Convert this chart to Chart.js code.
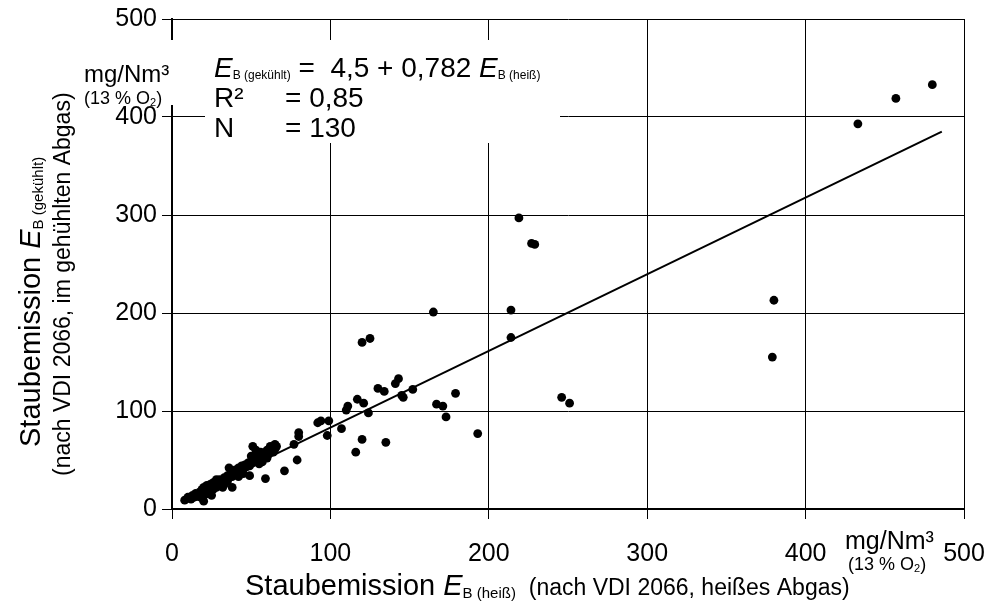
<!DOCTYPE html>
<html><head><meta charset="utf-8">
<script src="https://cdn.jsdelivr.net/npm/chart.js@4"></script>
<style>html,body{margin:0;padding:0;background:#fff}#wrap{width:989px;height:604px}</style>
</head><body><div id="wrap"><canvas id="c" width="989" height="604"></canvas></div>
<script>
// Staubemission heiß (x) and gekühlt (y), mg/Nm³ (13 % O2)
const hotValues = [480,457,433,380,379,219,227,229,214,214,165,246,251,179,167,171,152,143,141,146,145,130,134,125,120,121,117,124,111,110,107,120,135,116,99,98,94,92,80,80,77,65,51,49,59,71,79,20,8,193,173,36,38,
10,12,13,14,15,16,17,18,18,19,20,20,21,22,22,23,24,24,25,26,26,27,28,28,29,30,30,31,32,33,33,34,35,35,36,37,38,39,40,40,41,42,43,44,45,46,47,48,49,50,50,51,52,53,54,55,56,57,58,59,60,61,62,63,64,65,66,45,42,28,55,60,32,25,62,53,57];
const cooledValues = [433,419,393,213,155,297,271,270,203,175,201,114,108,118,107,105,122,133,128,114,116,123,120,174,170,108,112,98,105,101,82,71,68,58,90,75,90,88,78,74,66,66,64,34,31,39,50,8,9,77,94,42,22,
12,10,14,12,16,13,15,18,12,20,17,22,15,19,24,21,18,25,22,20,27,24,28,22,26,30,24,27,29,32,25,30,34,28,32,36,33,38,35,40,37,42,39,44,41,45,43,47,44,49,54,47,51,56,50,53,58,55,52,57,60,56,59,62,58,61,64,36,33,30,46,52,22,14,64,60,48];
// regression line endpoints
const fitX = [8, 486];
const fitY = [11, 385];
const tickValues = [0, 100, 200, 300, 400, 500];

const FF = '"Liberation Sans", Arial, sans-serif';
const pts = hotValues.map((x, i) => ({x, y: cooledValues[i]}));
const fit = fitX.map((x, i) => ({x, y: fitY[i]}));

function runs(ctx, x, y, parts) {
  let cx = x;
  for (const p of parts) {
    ctx.font = p.f;
    ctx.fillText(p.t, cx, y + (p.dy || 0));
    cx += ctx.measureText(p.t).width;
  }
  return cx;
}

const overlay = {
  id: 'overlay',
  beforeDatasetsDraw(chart) {
    const ctx = chart.ctx;
    ctx.save();
    ctx.fillStyle = '#fff';
    ctx.fillRect(80, 40, 480, 65);
    ctx.fillRect(205, 100, 355, 43);
    ctx.restore();
  },
  afterDraw(chart) {
    const ctx = chart.ctx;
    ctx.save();
    ctx.fillStyle = '#000';
    ctx.textBaseline = 'alphabetic';
    ctx.textAlign = 'left';
    const big = '28px ' + FF, it = 'italic 28px ' + FF, sub = '12px ' + FF;
    // equation block
    runs(ctx, 214, 77, [{t:'E', f:it}, {t:'B (gekühlt)', f:sub, dy:2}, {t:' =  4,5 + 0,782 ', f:big}, {t:'E', f:it}, {t:'B (heiß)', f:sub, dy:2}]);
    runs(ctx, 214, 107, [{t:'R²', f:big}]);
    runs(ctx, 285, 107, [{t:'= 0,85', f:big}]);
    runs(ctx, 214, 137, [{t:'N', f:big}]);
    runs(ctx, 285, 137, [{t:'= 130', f:big}]);
    // y unit
    runs(ctx, 84, 82, [{t:'mg/Nm³', f:'24px ' + FF}]);
    runs(ctx, 84, 104, [{t:'(13 % O', f:'18px ' + FF}, {t:'2', f:'11px ' + FF, dy:2}, {t:')', f:'18px ' + FF}]);
    // x unit
    runs(ctx, 845, 549, [{t:'mg/Nm³', f:'25px ' + FF}]);
    runs(ctx, 848, 570, [{t:'(13 % O', f:'18px ' + FF}, {t:'2', f:'11px ' + FF, dy:2}, {t:')', f:'18px ' + FF}]);
    // x title
    runs(ctx, 245, 595, [{t:'Staubemission ', f:'29px ' + FF}, {t:'E', f:'italic 29px ' + FF}, {t:'B (heiß)', f:'15px ' + FF, dy:3}, {t:'  (nach VDI 2066, heißes Abgas)', f:'23px ' + FF}]);
    // y title (rotated)
    ctx.save();
    ctx.translate(40, 447);
    ctx.rotate(-Math.PI / 2);
    runs(ctx, 0, 0, [{t:'Staubemission ', f:'29px ' + FF}, {t:'E', f:'italic 29px ' + FF}, {t:'B (gekühlt)', f:'15px ' + FF, dy:3}]);
    ctx.restore();
    ctx.save();
    ctx.translate(70, 476);
    ctx.rotate(-Math.PI / 2);
    runs(ctx, 0, 0, [{t:'(nach VDI 2066, im gehühlten Abgas)', f:'23px ' + FF}]);
    ctx.restore();
    ctx.restore();
  }
};

const axisCommon = {
  type: 'linear', min: 0, max: 500,
  grid: {color: '#000', lineWidth: 1, tickLength: 10, drawTicks: true},
  border: {display: true, color: '#000', width: 2},
};

new Chart(document.getElementById('c'), {
  type: 'scatter',
  data: {
    datasets: [
      {data: pts, backgroundColor: '#000', borderWidth: 0, pointRadius: 4.4, pointHoverRadius: 4.4},
      {type: 'line', data: fit, borderColor: '#000', borderWidth: 2, pointRadius: 0, showLine: true, fill: false}
    ]
  },
  options: {
    responsive: false, animation: false,
    layout: {padding: {top: 19, right: 25, left: 0, bottom: 0}},
    plugins: {legend: {display: false}, tooltip: {enabled: false}},
    scales: {
      x: Object.assign({}, axisCommon, {
        afterBuildTicks(s) { s.ticks = tickValues.map(v => ({value: v})); },
        afterFit(s) { s.height = 95; s.paddingLeft = 0; s.paddingRight = 0; },
        ticks: {color: '#000', font: {family: FF, size: 25}, padding: 20, maxRotation: 0}
      }),
      y: Object.assign({}, axisCommon, {
        afterBuildTicks(s) { s.ticks = tickValues.map(v => ({value: v})); },
        afterFit(s) { s.width = 172; s.paddingTop = 0; s.paddingBottom = 0; },
        ticks: {color: '#000', font: {family: FF, size: 25}, padding: 5}
      })
    }
  },
  plugins: [overlay]
});
</script></body></html>
